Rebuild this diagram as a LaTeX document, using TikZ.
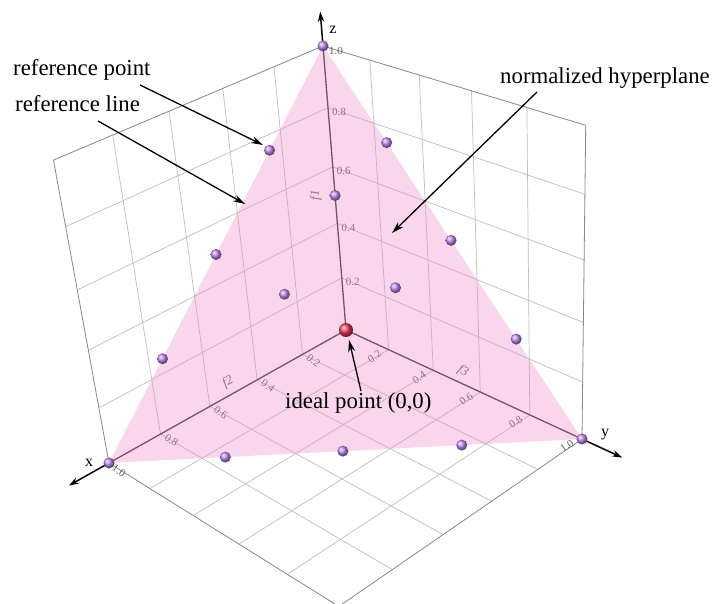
\documentclass[tikz,border=0pt]{standalone}
\usepackage{fontspec}
\setmainfont{Liberation Serif}
\usetikzlibrary{arrows.meta,calc}
\definecolor{gridc}{RGB}{190,190,190}
\definecolor{edgec}{RGB}{135,135,135}
\definecolor{axisc}{RGB}{60,50,58}
\definecolor{tickc}{RGB}{105,95,105}
\definecolor{pinkp}{RGB}{241,138,201}
\definecolor{ballc}{RGB}{190,135,240}
\definecolor{redball}{RGB}{240,60,90}
\newcommand{\projpt}[4]{%
  \pgfmathsetmacro{\pjd}{1-0.1*(#2)-0.12*(#3)-0.1*(#4)}%
  \pgfmathsetmacro{\pjx}{346+(-213.3*(#2)+207.68*(#3)-20.7*(#4))/\pjd}%
  \pgfmathsetmacro{\pjy}{330+(119.7*(#2)+95.92*(#3)-255.6*(#4))/\pjd}%
  \coordinate (#1) at (\pjx,\pjy);%
}
\begin{document}
\begin{tikzpicture}[x=1pt,y=-1pt,
  gridline/.style={draw=gridc,line width=0.7pt},
  boxedge/.style={draw=edgec,line width=0.8pt},
  axisline/.style={draw=axisc,line width=1.3pt},
  axisarrow/.style={draw=black,line width=1.5pt,-{Stealth[length=10pt,width=6.5pt]}},
  annoarrow/.style={draw=black,line width=1.3pt,-{Stealth[length=12pt,width=7pt]}},
  ticklab/.style={text=tickc,font=\fontsize{11}{12}\selectfont,inner sep=0pt},
  anno/.style={font=\fontsize{22.8}{27}\selectfont,inner sep=0pt},
  axname/.style={font=\fontsize{16}{18}\selectfont,inner sep=0pt},
  refball/.style={ball color=ballc},
]
\useasboundingbox (0,0) rectangle (713,604);
\fill[white] (0,0) rectangle (713,604);

% corners
\projpt{O}{0}{0}{0}
\projpt{X1}{1}{0}{0}
\projpt{Y1}{0}{1}{0}
\projpt{Z1}{0}{0}{1}
\projpt{TL}{1}{0}{1}
\projpt{TR}{0}{1}{1}
\projpt{F}{1}{1}{0}

% grid lines
\foreach \t in {0.2,0.4,0.6,0.8}{
  \projpt{a}{\t}{0}{0}\projpt{b}{\t}{0}{1}\draw[gridline] (a)--(b);
  \projpt{a}{0}{0}{\t}\projpt{b}{1}{0}{\t}\draw[gridline] (a)--(b);
  \projpt{a}{0}{\t}{0}\projpt{b}{0}{\t}{1}\draw[gridline] (a)--(b);
  \projpt{a}{0}{0}{\t}\projpt{b}{0}{1}{\t}\draw[gridline] (a)--(b);
  \projpt{a}{\t}{0}{0}\projpt{b}{\t}{1}{0}\draw[gridline] (a)--(b);
  \projpt{a}{0}{\t}{0}\projpt{b}{1}{\t}{0}\draw[gridline] (a)--(b);
}
% box edges
\draw[boxedge] (X1)--(TL)--(Z1)--(TR)--(Y1)--(F)--cycle;

% axes
\draw[axisline] (O)--(X1);
\draw[axisline] (O)--(Y1);
\draw[axisline] (O)--(Z1);

% tick labels
\foreach \t in {0.2,0.4,0.6,0.8}{
  \projpt{tz}{0}{0}{\t}\node[ticklab] at ($(tz)+(11,4)$) {\t};
  \projpt{tx}{\t}{0}{0}\node[ticklab,rotate=-35] at ($(tx)+(11,6)$) {\t};
  \projpt{ty}{0}{\t}{0}\node[ticklab,rotate=35] at ($(ty)+(-14,7)$) {\t};
}
\node[ticklab] (tz1) at ($(Z1)+(13,5)$) {1.0};
\node[ticklab,rotate=-35] (tx1) at ($(X1)+(10,8)$) {1.0};
\node[ticklab,rotate=35] (ty1) at ($(Y1)+(-15,7)$) {1.0};
\node[ticklab,font=\fontsize{13}{15}\selectfont\itshape,rotate=90] (f1) at (316,195) {f1};
\node[ticklab,font=\fontsize{13}{15}\selectfont\itshape,rotate=30] (f2) at (228,382) {f2};
\node[ticklab,font=\fontsize{13}{15}\selectfont\itshape,rotate=-30] (f3) at (463,371) {f3};

% normalized hyperplane
\fill[pinkp,opacity=0.35] (X1)--(Y1)--(Z1)--cycle;

% axis arrows
\projpt{XT}{1.15}{0}{0}
\projpt{YT}{0}{1.147}{0}
\projpt{ZT}{0}{0}{1.107}
\draw[axisarrow] (X1)--(XT);
\draw[axisarrow] (Y1)--(YT);
\draw[axisarrow] (Z1)--(ZT);
\node[axname] (lx) at (89,463) {x};
\node[axname] (ly) at (605,435) {y};
\node[axname] (lz) at (333,30) {z};

% reference points
\foreach \i/\a/\b/\c in {1/1/0/0,2/0/1/0,3/0/0/1,
  4/0.75/0/0.25,5/0.5/0/0.5,6/0.25/0/0.75,
  7/0/0.25/0.75,8/0/0.5/0.5,9/0/0.75/0.25,
  10/0.75/0.25/0,11/0.5/0.5/0,12/0.25/0.75/0,
  13/0.25/0/0.25,14/0/0.25/0.25,15/0/0/0.5}{
  \projpt{p\i}{\a}{\b}{\c}
  \shade[refball] (p\i) circle[radius=5.5pt];
}
\shade[ball color=redball] (O) circle[radius=7pt];

% annotations
\node[anno,anchor=base west] (rp) at (13,76) {reference point};
\node[anno,anchor=base west] (rl) at (15,111.5) {reference line};
\node[anno,anchor=base west] (nh) at (500,84) {normalized hyperplane};
\node[anno,anchor=base west] (ip) at (285,408) {ideal point (0,0)};

\coordinate (rpS) at (140,85);
\coordinate (rpT) at (263,145);
\coordinate (rlS) at (98,121);
\coordinate (rlT) at (245,204);
\coordinate (nhS) at (537,92);
\coordinate (nhT) at (392,233);
\coordinate (ipS) at (361,391);
\coordinate (ipT) at (349,340);
\draw[annoarrow] (rpS)--(rpT);
\draw[annoarrow] (rlS)--(rlT);
\draw[annoarrow] (nhS)--(nhT);
\draw[annoarrow] (ipS)--(ipT);
\end{tikzpicture}
\end{document}
